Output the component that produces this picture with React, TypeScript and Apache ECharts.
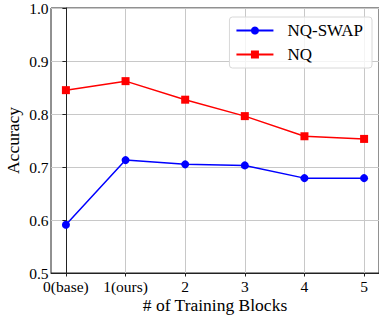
import React, { useEffect, useRef } from "react";
import * as echarts from "echarts";

const categories = ["0(base)", "1(ours)", "2", "3", "4", "5"];
const nqSwap = [0.591, 0.713, 0.705, 0.703, 0.679, 0.679];
const nq = [0.845, 0.862, 0.827, 0.796, 0.758, 0.753];

const FONT = "Liberation Serif";

export default function App() {
  const ref = useRef<HTMLDivElement>(null);
  useEffect(() => {
    if (!ref.current) return;
    const chart = echarts.init(ref.current, undefined, { renderer: "svg" });
    const xs = categories.map((_, i) => i);
    chart.setOption({
      animation: false,
      textStyle: { fontFamily: FONT },
      grid: {
        left: 51,
        right: 0,
        top: 8,
        bottom: 42,
        show: true,
        borderColor: "#222",
        borderWidth: 1,
        outerBoundsMode: "none",
        containLabel: false,
      },
      legend: {
        right: 7,
        top: 17,
        orient: "vertical",
        itemWidth: 37,
        itemHeight: 10,
        itemGap: 7,
        padding: [5, 9, 5, 6],
        borderColor: "#d8d8d8",
        borderWidth: 1,
        borderRadius: 3,
        backgroundColor: "rgba(255,255,255,0.8)",
        textStyle: { fontFamily: FONT, fontSize: 17, color: "#000", padding: [0, 0, 0, 9] },
        data: ["NQ-SWAP", "NQ"],
      },
      xAxis: {
        type: "value",
        min: -0.25,
        max: 5.25,
        name: "# of Training Blocks",
        nameLocation: "middle",
        nameGap: 23,
        nameMoveOverlap: false,
        nameTextStyle: { fontFamily: FONT, fontSize: 17.5, color: "#000" },
        axisLine: { show: true, lineStyle: { color: "#222", width: 1 } },
        axisTick: { show: true, length: 3.5, customValues: xs, lineStyle: { color: "#222" } },
        axisLabel: {
          customValues: xs,
          fontFamily: FONT,
          fontSize: 15.5,
          color: "#000",
          margin: 5,
          formatter: (v: number) => categories[Math.round(v)] ?? "",
        },
        splitLine: { show: true, lineStyle: { color: "#c8c8c8", width: 1 } },
      },
      yAxis: {
        type: "value",
        min: 0.5,
        max: 1.0,
        interval: 0.1,
        name: "Accuracy",
        nameLocation: "middle",
        nameGap: 29,
        nameMoveOverlap: false,
        nameRotate: 90,
        nameTextStyle: { fontFamily: FONT, fontSize: 17.5, color: "#000" },
        axisLine: { show: true, lineStyle: { color: "#222", width: 1 } },
        axisTick: { show: true, length: 3.5, lineStyle: { color: "#222" } },
        axisLabel: {
          fontFamily: FONT,
          fontSize: 15.5,
          color: "#000",
          margin: 2.5,
          formatter: (v: number) => v.toFixed(1),
        },
        splitLine: { show: true, lineStyle: { color: "#c8c8c8", width: 1 } },
      },
      series: [
        {
          name: "NQ-SWAP",
          type: "line",
          data: nqSwap.map((v, i) => [xs[i], v]),
          symbol: "circle",
          symbolSize: 8,
          color: "#0000ff",
          lineStyle: { color: "#0000ff", width: 1.5 },
          itemStyle: { color: "#0000ff" },
        },
        {
          name: "NQ",
          type: "line",
          data: nq.map((v, i) => [xs[i], v]),
          symbol: "rect",
          symbolSize: 8,
          color: "#ff0000",
          lineStyle: { color: "#ff0000", width: 1.5 },
          itemStyle: { color: "#ff0000" },
        },
      ],
    });
    return () => chart.dispose();
  }, []);
  return (
    <div
      ref={ref}
      style={{ position: "absolute", left: 0, top: 0, width: 379, height: 315 }}
    />
  );
}
